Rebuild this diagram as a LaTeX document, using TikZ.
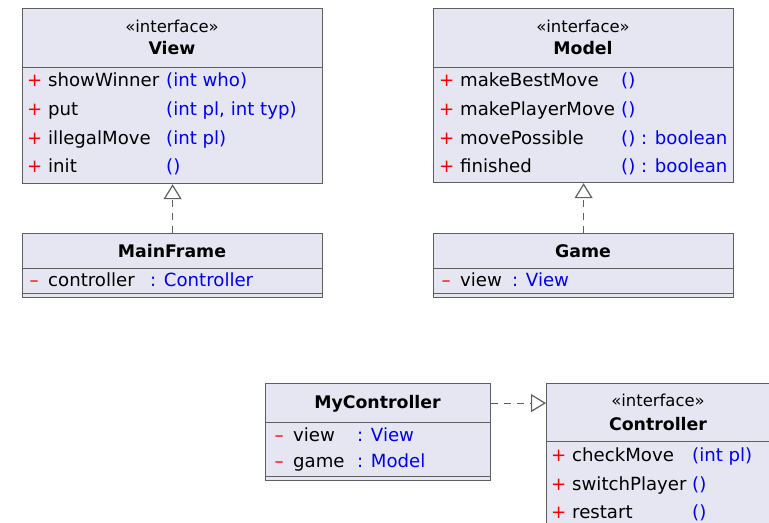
\documentclass[tikz,border=0pt]{standalone}
\usepackage{fontspec}
\setmainfont{DejaVu Sans}
\usetikzlibrary{arrows.meta}
\definecolor{umlfill}{RGB}{230,230,242}
\definecolor{umlline}{RGB}{95,95,95}
\definecolor{umlblue}{RGB}{0,0,235}
\definecolor{umlred}{RGB}{240,0,0}
\newcommand\umlrow[4]{\makebox[21bp][l]{\textcolor{umlred}{#1}}\makebox[#2][l]{#3}\textcolor{umlblue}{#4}}
\newcommand\umlpriv{\hspace{2.5bp}–}
\tikzset{
  compart/.style={draw=umlline, fill=umlfill, line width=1.2bp, anchor=north west,
    inner sep=0pt, minimum width=300bp},
  row/.style={anchor=base west, inner sep=0pt, font=\fontsize{18.2}{22}\selectfont},
  stereo/.style={anchor=base, inner sep=0pt, font=\fontsize{16.5}{20}\selectfont},
  title/.style={anchor=base, inner sep=0pt, font=\fontsize{17.4}{20}\selectfont\bfseries},
  realize/.style={draw=umlline, line width=1.2bp, dash pattern=on 6.5bp off 6.5bp,
    -{Triangle[open, length=15bp, width=18bp]}}
}
\begin{document}
\begin{tikzpicture}[x=1bp, y=-1bp]
    \useasboundingbox (0,0) rectangle (769,523);
    \clip (0,0) rectangle (769,523);
    % View
    \node[compart, minimum height=59bp] (viewhead) at (22,8) {};
    \node[compart, minimum height=116bp] (viewops) at (22,67) {};
    \node[stereo] (viewstereo) at (172,33) {«interface»};
    \node[title] (viewname) at (172,55) {View};
    \node[row] (view1) at (27,87) {\umlrow{+}{118bp}{showWinner}{(int who)}};
    \node[row] (view2) at (27,116) {\umlrow{+}{118bp}{put}{(int pl, int typ)}};
    \node[row] (view3) at (27,145) {\umlrow{+}{118bp}{illegalMove}{(int pl)}};
    \node[row] (view4) at (27,173) {\umlrow{+}{118bp}{init}{()}};
    % MainFrame
    \node[compart, minimum height=35bp] (framehead) at (22,233) {};
    \node[compart, minimum height=25bp] (frameattr) at (22,268) {};
    \node[compart, minimum height=4bp] (frameops) at (22,293) {};
    \node[title] (framename) at (172,258) {MainFrame};
    \node[row] (frame1) at (27,287) {\umlrow{\umlpriv}{102bp}{controller}{: Controller}};
    % Model
    \node[compart, minimum height=59bp] (modelhead) at (433,8) {};
    \node[compart, minimum height=115bp] (modelops) at (433,67) {};
    \node[stereo] (modelstereo) at (583,33) {«interface»};
    \node[title] (modelname) at (583,55) {Model};
    \node[row] (model1) at (439,87) {\umlrow{+}{161bp}{makeBestMove}{()}};
    \node[row] (model2) at (439,116) {\umlrow{+}{161bp}{makePlayerMove}{()}};
    \node[row] (model3) at (439,145) {\umlrow{+}{161bp}{movePossible}{() : boolean}};
    \node[row] (model4) at (439,173) {\umlrow{+}{161bp}{finished}{() : boolean}};
    % Game
    \node[compart, minimum height=35bp] (gamehead) at (433,233) {};
    \node[compart, minimum height=25bp] (gameattr) at (433,268) {};
    \node[compart, minimum height=4bp] (gameops) at (433,293) {};
    \node[title] (gamename) at (583,258) {Game};
    \node[row] (game1) at (439,287) {\umlrow{\umlpriv}{52bp}{view}{: View}};
    % MyController
    \node[compart, minimum width=225bp, minimum height=39bp] (myhead) at (265,383) {};
    \node[compart, minimum width=225bp, minimum height=54bp] (myattr) at (265,422) {};
    \node[compart, minimum width=225bp, minimum height=4bp] (myops) at (265,476) {};
    \node[title] (myname) at (377.5,408) {MyController};
    \node[row] (my1) at (272,441) {\umlrow{\umlpriv}{64bp}{view}{: View}};
    \node[row] (my2) at (272,467) {\umlrow{\umlpriv}{64bp}{game}{: Model}};
    % Controller
    \node[compart, minimum width=224bp, minimum height=58bp] (ctrlhead) at (546,383) {};
    \node[compart, minimum width=224bp, minimum height=100bp] (ctrlops) at (546,441) {};
    \node[stereo] (ctrlstereo) at (658,406) {«interface»};
    \node[title] (ctrlname) at (658,430) {Controller};
    \node[row] (ctrl1) at (551,461) {\umlrow{+}{120bp}{checkMove}{(int pl)}};
    \node[row] (ctrl2) at (551,490) {\umlrow{+}{120bp}{switchPlayer}{()}};
    \node[row] (ctrl3) at (551,518) {\umlrow{+}{120bp}{restart}{()}};
    % realizations
    \draw[realize] (framehead.north) -- (viewops.south);
    \draw[realize] (gamehead.north) -- (modelops.south);
    \draw[realize] (myhead.east) -- (myhead.east -| ctrlhead.west);
\end{tikzpicture}
\end{document}
